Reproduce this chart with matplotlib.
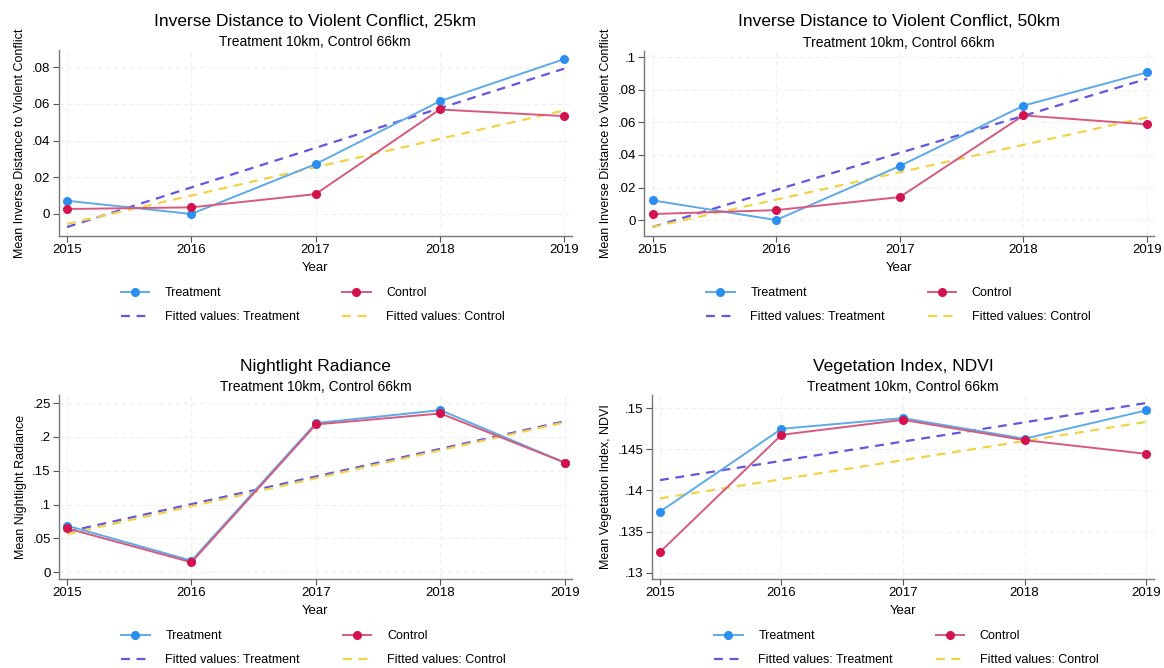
import matplotlib
matplotlib.use("Agg")
import matplotlib.pyplot as plt
import numpy as np

plt.rcParams['font.family'] = ['Liberation Sans', 'DejaVu Sans']

years = [2015, 2016, 2017, 2018, 2019]

conf25_treat = [0.0072, 0.0000, 0.0271, 0.0614, 0.0843]
conf25_ctrl = [0.0027, 0.0036, 0.0108, 0.0569, 0.0533]
conf50_treat = [0.0121, 0.0000, 0.0332, 0.0703, 0.0908]
conf50_ctrl = [0.0037, 0.0061, 0.0141, 0.0643, 0.0588]
night_treat = [0.0689, 0.0172, 0.2205, 0.2396, 0.1620]
night_ctrl = [0.0650, 0.0148, 0.2185, 0.2347, 0.1620]
ndvi_treat = [0.13741, 0.14749, 0.14879, 0.14628, 0.14972]
ndvi_ctrl = [0.13251, 0.14676, 0.14858, 0.14611, 0.14445]

titles = ["Inverse Distance to Violent Conflict, 25km",
          "Inverse Distance to Violent Conflict, 50km",
          "Nightlight Radiance",
          "Vegetation Index, NDVI"]
subtitle = "Treatment 10km, Control 66km"
ylabels = ["Mean Inverse Distance to Violent Conflict",
           "Mean Inverse Distance to Violent Conflict",
           "Mean Nightlight Radiance",
           "Mean Vegetation Index, NDVI"]
yticks_list = [[0, 0.02, 0.04, 0.06, 0.08],
               [0, 0.02, 0.04, 0.06, 0.08, 0.1],
               [0, 0.05, 0.1, 0.15, 0.2, 0.25],
               [0.13, 0.135, 0.14, 0.145, 0.15]]
ytick_labels = [["0", ".02", ".04", ".06", ".08"],
                ["0", ".02", ".04", ".06", ".08", ".1"],
                ["0", ".05", ".1", ".15", ".2", ".25"],
                [".13", ".135", ".14", ".145", ".15"]]
ylims = [(-0.012, 0.0893), (-0.0098, 0.1039), (-0.0099, 0.262), (0.12923, 0.1516)]
series = [(conf25_treat, conf25_ctrl), (conf50_treat, conf50_ctrl),
          (night_treat, night_ctrl), (ndvi_treat, ndvi_ctrl)]

W, H = 1164, 668
fig = plt.figure(figsize=(W / 100, H / 100), dpi=100)
fig.patch.set_facecolor('white')

# pixel boxes: left, right, top, bottom
boxes = [(58.5, 572, 50, 236), (644, 1154, 51, 236),
         (59, 572, 395, 579), (652, 1154, 395, 579)]
# data x positions in pixels for 2015 and 2019
xpix = [(67, 564), (652.5, 1147), (67, 565), (660, 1146)]

c_treat_line = '#5eaae8'
c_treat_mark = '#2a8ff0'
c_ctrl_line = '#d65a80'
c_ctrl_mark = '#d4124e'
c_fit_treat = '#6655e0'
c_fit_ctrl = '#f2d348'

for i in range(4):
    l, r, t, b = boxes[i]
    ax = fig.add_axes([l / W, (H - b) / H, (r - l) / W, (b - t) / H])
    x0p, x1p = xpix[i]
    ppy = (x1p - x0p) / 4.0
    ax.set_xlim(2015 - (x0p - l) / ppy, 2019 + (r - x1p) / ppy)
    ax.set_ylim(*ylims[i])
    tr, ct = series[i]
    x = np.array(years, dtype=float)
    pt = np.polyfit(x, tr, 1)
    pc = np.polyfit(x, ct, 1)
    ax.plot(x, np.polyval(pt, x), color=c_fit_treat, lw=1.6, dashes=(4, 3),
            label='Fitted values: Treatment', zorder=3)
    ax.plot(x, np.polyval(pc, x), color=c_fit_ctrl, lw=1.6, dashes=(4, 3),
            label='Fitted values: Control', zorder=3)
    ax.plot(x, tr, color=c_treat_line, lw=1.4, marker='o', ms=5.5,
            mfc=c_treat_mark, mec=c_treat_mark, label='Treatment', zorder=4)
    ax.plot(x, ct, color=c_ctrl_line, lw=1.4, marker='o', ms=5.5,
            mfc=c_ctrl_mark, mec=c_ctrl_mark, label='Control', zorder=4)
    ax.set_xticks(years)
    ax.set_xticklabels([str(y) for y in years])
    ax.set_yticks(yticks_list[i])
    ax.set_yticklabels(ytick_labels[i])
    ax.tick_params(axis='both', labelsize=9.5, color='#555555', length=4,
                   width=0.8, pad=2)
    ax.grid(True, color='#efefef', lw=0.8, dashes=(4, 3))
    ax.set_axisbelow(True)
    for s in ['top', 'right']:
        ax.spines[s].set_visible(False)
    for s in ['left', 'bottom']:
        ax.spines[s].set_color('#777777')
        ax.spines[s].set_linewidth(1.0)
    ax.set_xlabel('Year', fontsize=9.5, labelpad=4)
    ax.set_ylabel(ylabels[i], fontsize=9, labelpad=4)
    cx = (l + r) / 2 / W
    fig.text(cx, 1 - (t - 29) / H, titles[i], ha='center', va='center', fontsize=12.5)
    fig.text(cx, 1 - (t - 8) / H, subtitle, ha='center', va='center', fontsize=10)
    handles, labels = ax.get_legend_handles_labels()
    order = [2, 0, 3, 1]
    lx = (l + 62) / W
    ly = 1 - (b + 51) / H
    ax.legend([handles[k] for k in order], [labels[k] for k in order],
              loc='upper left', bbox_to_anchor=(lx, ly), bbox_transform=fig.transFigure,
              ncol=2, frameon=False, fontsize=9, handlelength=2.3,
              handletextpad=1.25, columnspacing=3.4, labelspacing=0.95,
              borderaxespad=0, borderpad=0)

fig.savefig('out.png', dpi=100, facecolor='white')
